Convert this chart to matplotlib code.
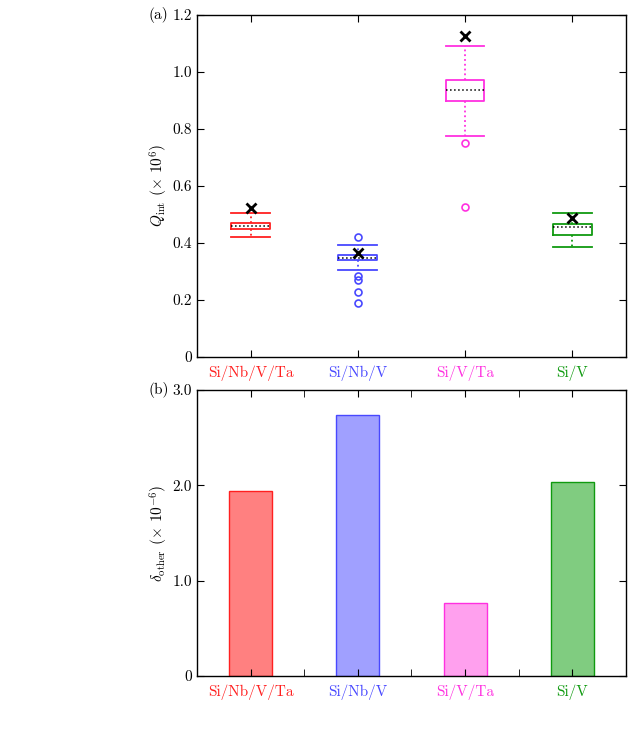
import numpy as np
import matplotlib.pyplot as plt

plt.rcParams["font.family"] = "cmr10"
plt.rcParams["mathtext.fontset"] = "cm"
plt.rcParams["axes.formatter.use_mathtext"] = True

alloys = ["Si/Nb/V/Ta", "Si/Nb/V", "Si/V/Ta", "Si/V"]
colors = ["#ff2020", "#4848ff", "#ff30e0", "#109a10"]
fills = ["#ff8080", "#a0a0ff", "#ffa0ee", "#80cc80"]

# panel (a): box statistics of Q_int (x 10^6)
whislo = [0.422, 0.305, 0.775, 0.385]
q1 = [0.448, 0.340, 0.898, 0.427]
med = [0.460, 0.346, 0.938, 0.457]
q3 = [0.471, 0.358, 0.971, 0.467]
whishi = [0.505, 0.393, 1.092, 0.506]
fliers = [[], [0.419, 0.285, 0.270, 0.229, 0.188], [0.750, 0.525], []]
xmark = [0.522, 0.366, 1.127, 0.487]

# panel (b): delta_other (x 10^-6)
delta_other = [1.94, 2.74, 0.765, 2.03]

x = np.arange(1, len(alloys) + 1)

fig = plt.figure(figsize=(6.33, 7.45), dpi=100)
ax1 = fig.add_axes([0.311, 0.521, 0.678, 0.459])
ax2 = fig.add_axes([0.311, 0.0926, 0.678, 0.384])

for i, c in enumerate(colors):
    stats = [{
        "whislo": whislo[i], "q1": q1[i], "med": med[i], "q3": q3[i],
        "whishi": whishi[i], "fliers": fliers[i],
    }]
    ax1.bxp(
        stats,
        positions=[x[i]],
        widths=0.36,
        showfliers=True,
        boxprops=dict(color=c, linewidth=1.3),
        whiskerprops=dict(color=c, linestyle=":", linewidth=1.3),
        capprops=dict(color=c, linewidth=1.3),
        capwidths=0.36,
        medianprops=dict(color="black", linestyle=":", linewidth=1.1),
        flierprops=dict(marker="o", markerfacecolor="none", markeredgecolor=c,
                        markersize=5, markeredgewidth=1.2),
    )
ax1.plot(x, xmark, "x", color="black", markersize=7, markeredgewidth=2, zorder=5)

ax1.set_xlim(0.5, 4.5)
ax1.set_ylim(0, 1.2)
ax1.set_yticks([0, 0.2, 0.4, 0.6, 0.8, 1.0, 1.2],
               ["0", "0.2", "0.4", "0.6", "0.8", "1.0", "1.2"])
ax1.set_xticks(x, alloys)
ax1.set_ylabel(r"$Q_{\rm int}$ ($\times$ 10$^6$)", fontsize=11, labelpad=2)
ax1.text(-0.066, 1.0, "(a)", transform=ax1.transAxes, ha="right", va="center", fontsize=11)

ax2.bar(x, delta_other, width=0.4, color=fills, edgecolor=colors, linewidth=1.0)
ax2.set_xlim(0.5, 4.5)
ax2.set_ylim(0, 3.0)
ax2.set_yticks([0, 1.0, 2.0, 3.0], ["0", "1.0", "2.0", "3.0"])
ax2.set_xticks(x, alloys)
ax2.set_xticks(np.arange(1.5, 4.0, 1.0), minor=True)
ax2.set_ylabel(r"$\delta_{\rm other}$ ($\times$ 10$^{-6}$)", fontsize=11, labelpad=2)
ax2.text(-0.066, 1.0, "(b)", transform=ax2.transAxes, ha="right", va="center", fontsize=11)

for ax in (ax1, ax2):
    ax.tick_params(direction="in", top=True, right=True, length=5, labelsize=11)
    ax.tick_params(which="minor", direction="in", top=True, bottom=True, length=5)
    ax.tick_params(axis="x", pad=6)
    for lab, c in zip(ax.get_xticklabels(), colors):
        lab.set_color(c)
    for s in ax.spines.values():
        s.set_linewidth(1.0)

fig.savefig("out.png", dpi=100)
